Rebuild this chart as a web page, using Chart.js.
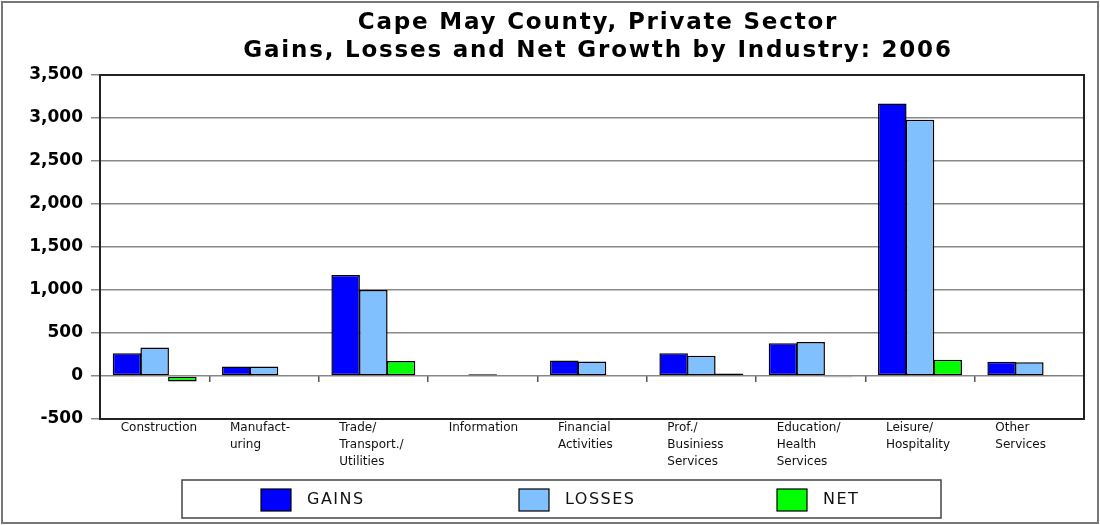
<!DOCTYPE html>
<html>
<head>
<meta charset="utf-8">
<script src="https://cdn.jsdelivr.net/npm/chart.js@4.4.0/dist/chart.umd.min.js"></script>
<style>
  html, body { margin: 0; padding: 0; background: #ffffff; }
  #wrap { width: 1100px; height: 525px; position: relative; }
</style>
</head>
<body>
<div id="wrap"><canvas id="c" width="1100" height="525"></canvas></div>
<script>
const titleLines = ['Cape May County, Private Sector', 'Gains, Losses and Net Growth by Industry: 2006'];
const categories = [
  ['Construction'],
  ['Manufact-', 'uring'],
  ['Trade/', 'Transport./', 'Utilities'],
  ['Information'],
  ['Financial', 'Activities'],
  ['Prof./', 'Businiess', 'Services'],
  ['Education/', 'Health', 'Services'],
  ['Leisure/', 'Hospitality'],
  ['Other', 'Services']
];
const seriesNames = ['GAINS', 'LOSSES', 'NET'];
const gains  = [265, 110, 1175, 10, 180, 265, 380, 3170, 165];
const losses = [330, 110, 1000, 20, 170, 235, 395, 2980, 160];
const net    = [-65, 0, 175, -10, 10, 30, -15, 190, 5];
const yMin = -500, yMax = 3500, yStep = 500;

const colors = ['#0000FF', '#80C0FF', '#00FF00'];
const FONT = '"DejaVu Sans", sans-serif';

const decorPlugin = {
  id: 'decor',
  beforeDraw(chart) {
    const ctx = chart.ctx;
    ctx.save();
    ctx.fillStyle = '#ffffff';
    ctx.fillRect(0, 0, chart.width, chart.height);
    ctx.restore();
  },
  afterDatasetsDraw(chart) {
    const ctx = chart.ctx;
    const a = chart.chartArea;
    ctx.save();
    ctx.strokeStyle = '#222';
    ctx.lineWidth = 2;
    ctx.strokeRect(a.left, a.top, a.right - a.left, a.bottom - a.top);
    ctx.restore();
  },
  afterDraw(chart) {
    const ctx = chart.ctx;
    ctx.save();
    // outer frame
    ctx.strokeStyle = '#777';
    ctx.lineWidth = 2;
    ctx.strokeRect(2, 2, chart.width - 4, chart.height - 4);
    // title
    ctx.fillStyle = '#000';
    ctx.textAlign = 'center';
    ctx.textBaseline = 'middle';
    ctx.font = 'bold 23px ' + FONT;
    try { ctx.letterSpacing = '1.8px'; } catch (e) {}
    const cx = 598;
    ctx.fillText(titleLines[0], cx, 23);
    ctx.fillText(titleLines[1], cx, 51);
    try { ctx.letterSpacing = '0px'; } catch (e) {}
    // legend frame
    const lx = 182, ly = 480, lw = 759, lh = 38;
    ctx.strokeStyle = '#444';
    ctx.lineWidth = 1.5;
    ctx.strokeRect(lx, ly, lw, lh);
    ctx.font = '16px ' + FONT;
    ctx.textAlign = 'left';
    try { ctx.letterSpacing = '1.5px'; } catch (e) {}
    chart.data.datasets.forEach((ds, i) => {
      const bx = lx + 79 + i * 258;
      const by = ly + 9;
      ctx.fillStyle = ds.backgroundColor;
      ctx.fillRect(bx, by, 30, 22);
      ctx.strokeStyle = '#000';
      ctx.lineWidth = 1.2;
      ctx.strokeRect(bx, by, 30, 22);
      ctx.fillStyle = '#111';
      ctx.fillText(ds.label, bx + 46, by + 11);
    });
    ctx.restore();
  }
};

const mk = (label, data, color) => ({
  label, data,
  backgroundColor: color,
  borderColor: '#000',
  borderWidth: 1.5,
  borderSkipped: false,
  xAxisID: 'x', yAxisID: 'y',
  categoryPercentage: 0.76,
  barPercentage: 1.03
});

new Chart(document.getElementById('c'), {
  type: 'bar',
  data: {
    labels: categories,
    datasets: [
      mk(seriesNames[0], gains, colors[0]),
      mk(seriesNames[1], losses, colors[1]),
      mk(seriesNames[2], net, colors[2])
    ]
  },
  options: {
    responsive: false,
    animation: false,
    devicePixelRatio: 1,
    layout: { padding: { top: 75, right: 16, bottom: 50, left: 0 } },
    plugins: {
      legend: { display: false },
      title: { display: false },
      tooltip: { enabled: false }
    },
    scales: {
      x: {
        type: 'category',
        position: 'bottom',
        offset: true,
        grid: { display: false, offset: true, drawTicks: false },
        border: { display: false },
        ticks: {
          align: 'start',
          labelOffset: -34,
          padding: 0,
          maxRotation: 0,
          minRotation: 0,
          autoSkip: false,
          color: '#111',
          font: { family: FONT, size: 12, lineHeight: 1.42 }
        },
        afterFit(s) { s.height = 56; }
      },
      x2: {
        type: 'category',
        axis: 'x',
        position: { y: 0 },
        offset: true,
        grid: { display: true, offset: true, drawOnChartArea: false, drawTicks: true, tickLength: 6, color: '#555', lineWidth: 1.5 },
        border: { display: false },
        ticks: { display: false }
      },
      y: {
        type: 'linear',
        position: 'left',
        min: yMin,
        max: yMax,
        ticks: {
          stepSize: yStep,
          padding: 8,
          color: '#000',
          font: { family: FONT, size: 17, weight: 'bold' },
          callback: v => v.toLocaleString('en-US')
        },
        grid: { color: '#888', lineWidth: 1.5, tickLength: 9, tickColor: '#888' },
        border: { display: false },
        afterFit(s) { s.width = 100; }
      }
    }
  },
  plugins: [decorPlugin]
});
</script>
</body>
</html>
